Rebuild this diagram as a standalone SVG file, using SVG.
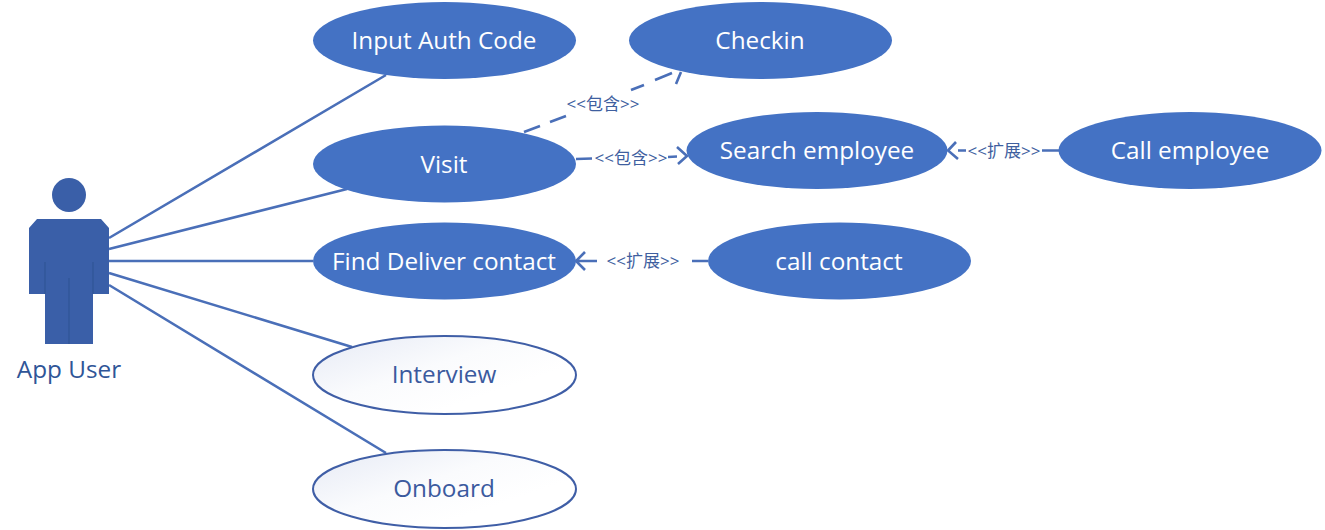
<svg xmlns="http://www.w3.org/2000/svg" width="1325" height="530" viewBox="0 0 1325 530">
<style>
.uc{fill:#4472c4}
.lt{stroke:#3f5ea6;stroke-width:2;fill:url(#g)}
text{font-family:"Open Sans","Noto Sans CJK SC",sans-serif;text-anchor:middle}
.w{font-size:24.300px;fill:#fff}
.b{font-size:24.300px;fill:#3b5a9e}
.a{font-size:24.300px;fill:#2f5597}
.l{font-size:17px;fill:#3f5f9f}
.c{stroke:#4a6fb8;stroke-width:2.6;fill:none;stroke-linecap:butt}
.ac{fill:#3a5fa8}
.as{stroke:#2f5597;stroke-width:1.200;fill:none}
</style>
<defs><linearGradient id="g" x1="0" y1="0" x2="0.75" y2="0.65"><stop offset="0" stop-color="#e6eaf5"/><stop offset="0.6" stop-color="#fafbfd"/><stop offset="1" stop-color="#fff"/></linearGradient></defs>
<g id="connectors">
<path class="c" d="M109 238L386 75M109 249L347 189M109 261H313M109 273L352 347M109 285L386 453"/>
<path class="c" d="M524 132L540 126M550 122L566 116M631 90L644 85M655 80L672 73M681 72L676 84"/>
<path class="c" d="M576 159L592 158.500M668 157L677 156.500M677 147L687 156L678 164"/>
<path class="c" d="M958 150.500H966M1042 150.500H1060M956 142L948 150.500L958 159"/>
<path class="c" d="M597 261H576M585 252L576 261L585 270M692 261H708"/>
</g>
<g id="actor">
<circle class="ac" cx="69" cy="195" r="17"/>
<path class="ac" d="M37 219H101L109 228V294H93V344H45V294H29V228Z"/>
<path class="as" d="M45 262V294M93 262V294M69 278V344"/>
<text class="a" x="69" y="378">App User</text>
</g>
<g id="input-auth-code"><ellipse class="uc" cx="444.500" cy="40.500" rx="131.500" ry="38.500"/><text class="w" x="444" y="49">Input Auth Code</text></g>
<g id="checkin"><ellipse class="uc" cx="760.500" cy="40.500" rx="131.500" ry="38.500"/><text class="w" x="760" y="49">Checkin</text></g>
<g id="visit"><ellipse class="uc" cx="444.500" cy="164" rx="131.500" ry="38.500"/><text class="w" x="444" y="173">Visit</text></g>
<g id="search-employee"><ellipse class="uc" cx="817" cy="150.500" rx="130.500" ry="38.500"/><text class="w" x="817" y="159">Search employee</text></g>
<g id="call-employee"><ellipse class="uc" cx="1190" cy="150.500" rx="131.500" ry="38.500"/><text class="w" x="1190" y="159">Call employee</text></g>
<g id="find-deliver-contact"><ellipse class="uc" cx="444.500" cy="261" rx="131.500" ry="38.500"/><text class="w" x="444" y="270">Find Deliver contact</text></g>
<g id="call-contact"><ellipse class="uc" cx="839.500" cy="261" rx="131.500" ry="38.500"/><text class="w" x="839" y="270">call contact</text></g>
<g id="interview"><ellipse class="lt" cx="444.500" cy="375" rx="131.500" ry="39"/><text class="b" x="444" y="383">Interview</text></g>
<g id="onboard"><ellipse class="lt" cx="444.500" cy="489" rx="131.500" ry="39"/><text class="b" x="444" y="497">Onboard</text></g>
<g id="labels">
<text class="l" x="603" y="110">&lt;&lt;包含&gt;&gt;</text>
<text class="l" x="631" y="164">&lt;&lt;包含&gt;&gt;</text>
<text class="l" x="1004" y="157">&lt;&lt;扩展&gt;&gt;</text>
<text class="l" x="643" y="267">&lt;&lt;扩展&gt;&gt;</text>
</g>
</svg>
